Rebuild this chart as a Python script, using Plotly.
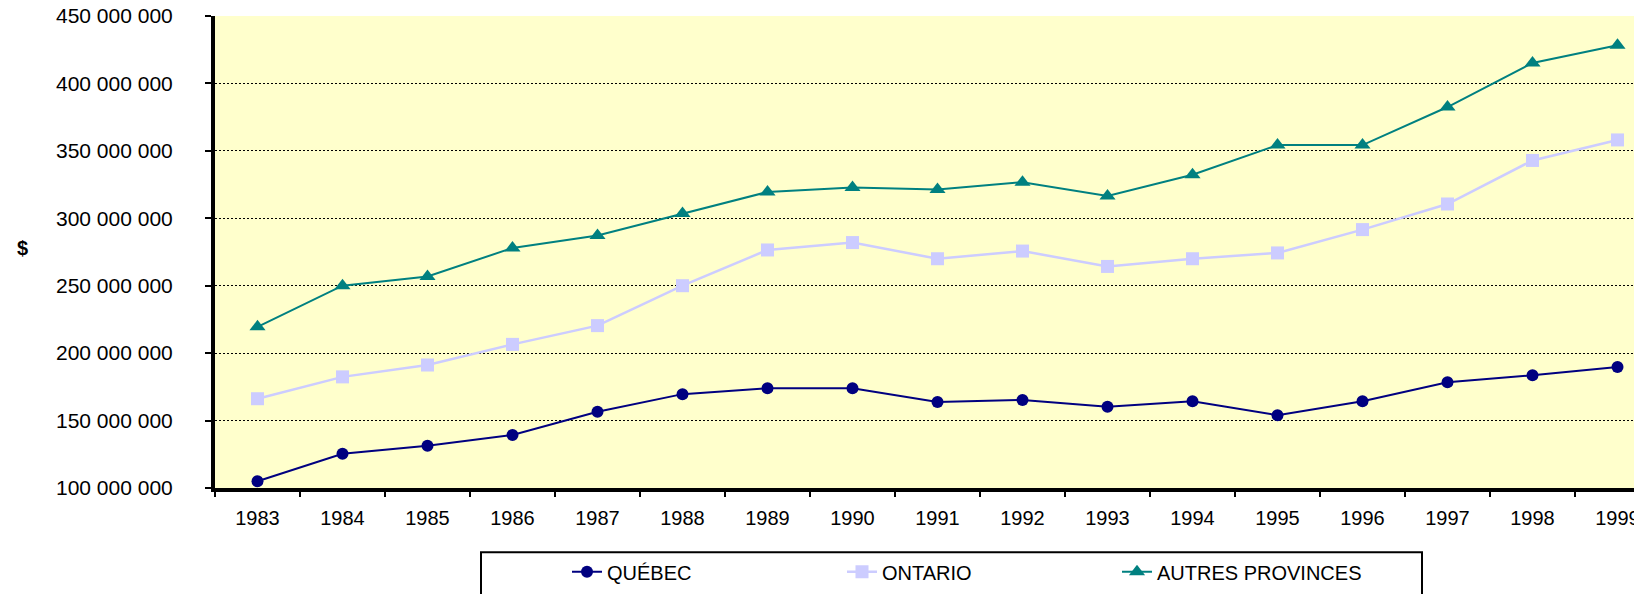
import plotly.graph_objects as go

# Categories
years = ["1983", "1984", "1985", "1986", "1987", "1988", "1989", "1990", "1991",
         "1992", "1993", "1994", "1995", "1996", "1997", "1998", "1999"]

# Series values ($)
quebec = [105.0e6, 125.4e6, 131.4e6, 139.3e6, 156.5e6, 169.6e6, 174.0e6, 174.0e6, 163.8e6,
          165.3e6, 160.3e6, 164.3e6, 154.0e6, 164.3e6, 178.4e6, 183.6e6, 189.7e6]
ontario = [166.2e6, 182.4e6, 191.2e6, 206.5e6, 220.4e6, 250.0e6, 276.5e6, 282.0e6, 270.0e6,
           275.7e6, 264.3e6, 270.0e6, 274.3e6, 291.6e6, 310.6e6, 342.9e6, 358.1e6]
autres = [219.5e6, 250.0e6, 256.8e6, 278.0e6, 287.2e6, 303.5e6, 319.5e6, 322.8e6, 321.3e6,
          326.8e6, 316.5e6, 332.3e6, 354.3e6, 354.3e6, 382.5e6, 415.2e6, 428.3e6]

# Y tick values / labels
y_tickvals = [100e6, 150e6, 200e6, 250e6, 300e6, 350e6, 400e6, 450e6]
y_ticktext = ["100 000 000", "150 000 000", "200 000 000", "250 000 000",
              "300 000 000", "350 000 000", "400 000 000", "450 000 000"]

FONT = "Liberation Sans, Arial, sans-serif"

fig = go.Figure()
fig.add_trace(go.Scatter(
    x=years, y=quebec, name="QUÉBEC", mode="lines+markers",
    line=dict(color="#000080", width=2),
    marker=dict(symbol="circle", size=12, color="#000080"),
))
fig.add_trace(go.Scatter(
    x=years, y=ontario, name="ONTARIO", mode="lines+markers",
    line=dict(color="#CCCCFF", width=2.5),
    marker=dict(symbol="square", size=13, color="#CCCCFF"),
))
fig.add_trace(go.Scatter(
    x=years, y=autres, name="AUTRES PROVINCES", mode="lines+markers",
    line=dict(color="#008080", width=2),
    marker=dict(symbol="triangle-up", size=14, color="#008080"),
))

# page has an 8px body margin; figure is sized to end at the window edge
OFF = 8
W, H = 1642 - OFF, 594 - OFF
PLOT_LEFT, PLOT_TOP, PLOT_BOTTOM = 215, 16, 487.7   # page pixels
L = PLOT_LEFT - OFF
T = PLOT_TOP - OFF
B = H - (PLOT_BOTTOM - OFF)
plot_w = W - L
plot_h = H - T - B
px_per_cat = 85.0
x_max = -0.5 + plot_w / px_per_cat

def px_to_paper_x(px):
    return (px - PLOT_LEFT) / plot_w

def px_to_paper_y(py):
    return (PLOT_BOTTOM - py) / plot_h

fig.update_layout(
    width=W, height=H,
    margin=dict(l=L, r=0, t=T, b=B, autoexpand=False, pad=0),
    paper_bgcolor="white",
    plot_bgcolor="#FFFFCC",
    font=dict(family=FONT, size=20, color="black"),
    showlegend=True,
    legend=dict(
        orientation="h",
        x=px_to_paper_x(567), xanchor="left",
        y=px_to_paper_y(552), yanchor="top",
        bgcolor="rgba(0,0,0,0)",
        borderwidth=0,
        font=dict(family=FONT, size=20, color="black"),
        entrywidth=230, entrywidthmode="pixels",
        itemclick=False, itemdoubleclick=False,
    ),
    xaxis=dict(
        type="category",
        range=[-0.5, x_max],
        showgrid=False,
        showline=True, linecolor="black", linewidth=4,
        ticks="outside", tickson="boundaries", ticklen=5, tickwidth=2, tickcolor="black",
        tickfont=dict(family=FONT, size=20, color="black"),
        ticklabelstandoff=9,
        ticklabeloverflow="allow",
        zeroline=False,
        fixedrange=True,
    ),
    yaxis=dict(
        range=[100e6, 450e6],
        tickvals=y_tickvals, ticktext=y_ticktext,
        showgrid=True, gridcolor="black", gridwidth=1, griddash="2px,2px",
        showline=True, linecolor="black", linewidth=4,
        ticks="outside", ticklen=6, tickwidth=2, tickcolor="black",
        tickfont=dict(family=FONT, size=21, color="black"),
        ticklabelstandoff=28,
        ticklabeloverflow="allow",
        zeroline=False,
        fixedrange=True,
    ),
    shapes=[dict(
        type="rect", xref="paper", yref="paper",
        x0=px_to_paper_x(481), x1=px_to_paper_x(1422),
        y0=px_to_paper_y(552), y1=px_to_paper_y(640),
        line=dict(color="black", width=2), fillcolor="rgba(0,0,0,0)",
        layer="above",
    )],
    annotations=[dict(
        text="<b>$</b>", xref="paper", yref="paper",
        x=px_to_paper_x(22), y=px_to_paper_y(248),
        xanchor="center", yanchor="middle", showarrow=False,
        font=dict(family=FONT, size=20, color="black"),
    )],
)

fig.write_html("out.html", config={"displayModeBar": False})
